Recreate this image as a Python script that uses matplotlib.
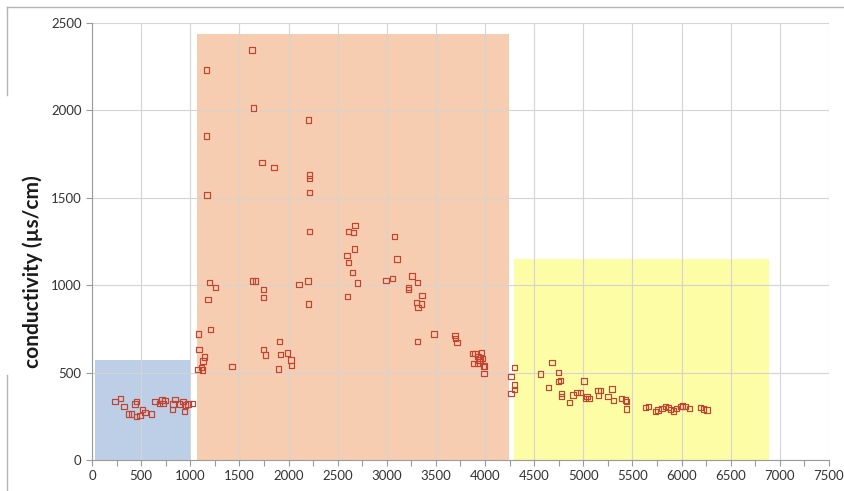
import matplotlib.pyplot as plt
from matplotlib.lines import Line2D
from matplotlib.patches import Rectangle


# sample positions and measured conductivity, grouped by shaded zone
ZONE1_X = [234, 291, 325, 369, 403, 437, 454, 454, 487, 515, 538, 606, 640, 690, 714, 724,
           741, 819, 826, 843, 893, 927, 944, 954, 978, 1022]
ZONE1_Y = [334, 353, 305, 263, 263, 320, 334, 248, 253, 290, 273, 263, 334, 324, 343, 324,
           339, 290, 320, 347, 320, 334, 276, 314, 320, 324]

ZONE2_X = [1079, 1086, 1089, 1113, 1124, 1130, 1147, 1164, 1164, 1171, 1181, 1198, 1205, 1259,
           1425, 1628, 1631, 1645, 1665, 1729, 1746, 1746, 1746, 1766, 1851, 1895, 1909, 1916,
           1987, 2027, 2030, 2105, 2200, 2206, 2206, 2213, 2213, 2213, 2213, 2596, 2602, 2609,
           2612, 2653, 2660, 2670, 2677, 2700, 2991, 3059, 3076, 3103, 3221, 3221, 3256, 3303,
           3310, 3310, 3317, 3350, 3357, 3479, 3695, 3702, 3716, 3871, 3888, 3898, 3922, 3929,
           3939, 3949, 3966, 3972, 3987, 3997, 3990, 4264, 4264]
ZONE2_Y = [519, 721, 633, 528, 515, 566, 589, 2231, 1854, 1516, 919, 1014, 748, 988,
           536, 2345, 1024, 2014, 1024, 1703, 976, 931, 633, 601, 1674, 521, 679, 605,
           612, 572, 542, 1003, 1024, 1945, 892, 1630, 1611, 1531, 1306, 1169, 936, 1131,
           1306, 1074, 1300, 1207, 1340, 1013, 1026, 1039, 1278, 1150, 988, 977, 1053, 902,
           1014, 677, 871, 892, 940, 721, 711, 696, 671, 610, 553, 610, 553, 591,
           572, 572, 616, 582, 534, 538, 496, 477, 381]

ZONE3_X = [4301, 4301, 4301, 4565, 4643, 4683, 4745, 4745, 4768, 4778, 4778, 4860, 4893, 4937,
           4971, 5005, 5022, 5039, 5056, 5150, 5157, 5175, 5252, 5293, 5310, 5388, 5428, 5438,
           5438, 5631, 5665, 5733, 5759, 5800, 5834, 5868, 5886, 5919, 5946, 5987, 6010, 6037,
           6078, 6190, 6223, 6257]
ZONE3_Y = [528, 429, 404, 492, 414, 557, 502, 448, 454, 382, 362, 330, 372, 385,
           385, 452, 353, 362, 353, 396, 368, 396, 362, 406, 339, 353, 343, 334,
           292, 301, 305, 276, 286, 296, 305, 301, 290, 280, 296, 305, 309, 305,
           296, 299, 292, 286]

# shaded zones: (x start, x end, top)
ZONES = [(30, 1000, 572), (1066, 4244, 2437), (4294, 6890, 1150)]
ZONE_COLORS = ["#bccfe6", "#f6cdb0", "#fdfda6"]

X_TICKS = list(range(0, 7501, 500))
Y_TICKS = list(range(0, 2501, 500))


def main() -> None:
    fig = plt.figure(figsize=(8.45, 4.91), dpi=100)
    fig.patch.set_facecolor("white")
    ax = fig.add_axes([92 / 845, 1 - 460 / 491, 737 / 845, 437 / 491])

    for (x0, x1, top), color in zip(ZONES, ZONE_COLORS):
        ax.add_patch(Rectangle((x0, 0), x1 - x0, top, facecolor=color, edgecolor="none", zorder=0.2))

    xs = ZONE1_X + ZONE2_X + ZONE3_X
    ys = ZONE1_Y + ZONE2_Y + ZONE3_Y
    ax.scatter(xs, ys, marker="s", s=15, facecolors="none", edgecolors="#c4432e",
               linewidths=0.85, zorder=3)

    ax.set_xlim(0, 7500)
    ax.set_ylim(0, 2500)
    ax.set_xticks(X_TICKS)
    ax.set_xticks(range(250, 7500, 500), minor=True)
    ax.set_yticks(Y_TICKS)
    ax.set_axisbelow(True)
    ax.grid(True, which="major", color="#d4d4d4", linewidth=0.8)

    for side in ("top", "right"):
        ax.spines[side].set_visible(False)
    for side in ("left", "bottom"):
        ax.spines[side].set_color("#9a9a9a")
        ax.spines[side].set_linewidth(0.8)
    ax.tick_params(which="both", direction="out", length=4, color="#9a9a9a", width=0.8,
                   labelsize=9.5, labelcolor="#333333")
    for lbl in ax.get_xticklabels() + ax.get_yticklabels():
        lbl.set_family("Lato")

    # chart frame lines, interrupted by the axis title
    fig.add_artist(Line2D([7 / 845, 1.0], [1 - 7 / 491, 1 - 7 / 491], color="#b5b5b5", linewidth=1))
    fig.add_artist(Line2D([7 / 845, 7 / 845], [1 - 7 / 491, 1 - 95 / 491], color="#b5b5b5", linewidth=1))
    fig.add_artist(Line2D([7 / 845, 7 / 845], [1 - 375 / 491, 0.0], color="#b5b5b5", linewidth=1))

    fig.text(33 / 845, 1 - 272 / 491, "conductivity (µs/cm)", rotation=90, ha="center", va="center",
             fontsize=15, fontweight="bold", family="Lato", color="#1a1a1a")

    fig.savefig("out.png", dpi=100)
    plt.close(fig)


if __name__ == "__main__":
    main()
